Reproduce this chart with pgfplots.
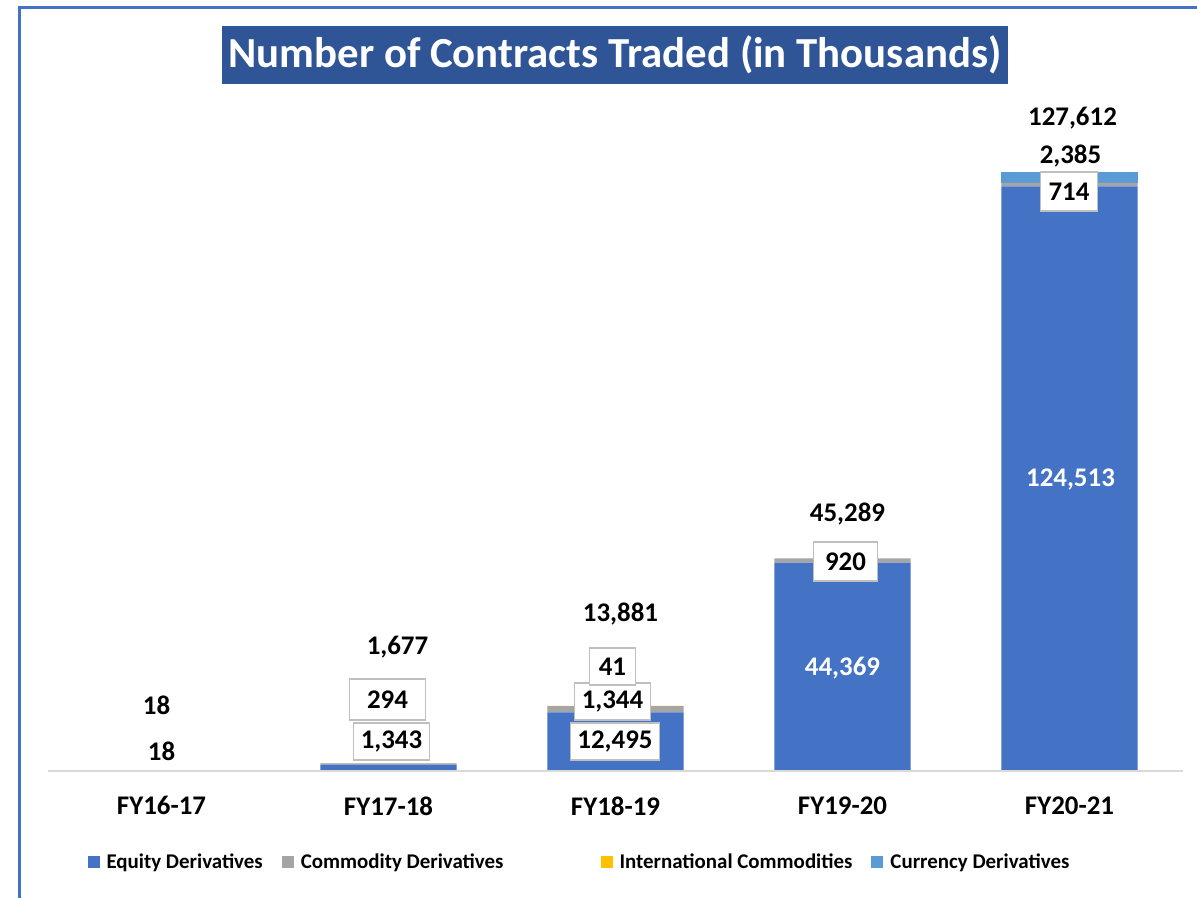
\documentclass[border=0pt]{standalone}
\usepackage{pgfplots}
\pgfplotsset{compat=1.18}
\usepackage{fontspec}
\setmainfont{Carlito}
\definecolor{eq}{HTML}{4472C4}
\definecolor{com}{HTML}{A5A5A5}
\definecolor{intl}{HTML}{FFC000}
\definecolor{cur}{HTML}{5B9BD5}
\definecolor{ttl}{HTML}{2F5597}
\definecolor{boxc}{HTML}{BFBFBF}
\definecolor{basel}{HTML}{D9D9D9}
\begin{document}
\begin{tikzpicture}[x=1bp,y=1bp,
  lbl/.style={font=\fontsize{27}{31}\selectfont\bfseries, inner sep=0pt},
  bx/.style={lbl, fill=white, draw=boxc, line width=1.5bp, minimum height=38bp}]
\useasboundingbox (0,0) rectangle (1197,898);
\draw[eq, line width=3bp] (19,0) -- (19,890) -- (1197,890);
\node[fill=ttl, text=white, font=\fontsize{43}{47}\selectfont\bfseries, minimum width=786bp, minimum height=58bp, inner sep=0pt] at (615,843) {Number of Contracts Traded (in Thousands)};
\begin{axis}[
  at={(48bp,127bp)}, anchor=south west,
  scale only axis, width=1135bp, height=671bp,
  xmin=-0.5, xmax=4.5, ymin=0, ymax=142900,
  ybar stacked, bar width=0.6,
  axis line style={draw=none}, ytick=\empty,
  xtick={0,1,2,3,4}, xticklabels={FY16-17,FY17-18,FY18-19,FY19-20,FY20-21},
  major tick length=0pt,
  xticklabel style={font=\fontsize{27}{31}\selectfont\bfseries, yshift=-22bp},
  clip=false,
  legend columns=4,
  legend style={draw=none, fill=none, at={(0.5,0)}, xshift=-36bp, yshift=-91bp, anchor=center,
    font=\fontsize{21}{24}\selectfont\bfseries,
    nodes={inner sep=2bp},
    /tikz/every odd column/.append style={column sep=5bp},
    /tikz/every even column/.append style={column sep=17bp}},
  legend image code/.code={\fill[#1] (0bp,-6bp) rectangle (12bp,6bp);},
]
\draw[basel, line width=1.5bp] (axis cs:-0.5,0) -- (axis cs:4.5,0);
\addplot[fill=eq, draw=none] coordinates {(0,18) (1,1343) (2,12495) (3,44369) (4,124513)};
\addplot[fill=com, draw=none] coordinates {(0,0) (1,294) (2,1344) (3,920) (4,714)};
\addplot[fill=intl, draw=none] coordinates {(0,0) (1,40) (2,41) (3,0) (4,0)};
\addplot[fill=cur, draw=none] coordinates {(0,0) (1,0) (2,0) (3,0) (4,2385)};
\legend{Equity Derivatives, Commodity Derivatives\hspace*{78bp}, International Commodities, Currency Derivatives}
\coordinate (c0) at (axis cs:0,0);
\coordinate (c1) at (axis cs:1,0);
\coordinate (c2) at (axis cs:2,0);
\coordinate (c3) at (axis cs:3,0);
\coordinate (c4) at (axis cs:4,0);
\end{axis}
% FY16-17
\node[lbl, yshift=20bp] at (c0) {18};
\node[lbl, xshift=-5bp, yshift=66bp] at (c0) {18};
% FY17-18
\node[bx, minimum width=76bp, minimum height=37bp, xshift=3bp, yshift=29.5bp] at (c1) {1,343};
\node[bx, minimum width=76bp, minimum height=41bp, xshift=-1bp, yshift=71.5bp] at (c1) {294};
\node[lbl, xshift=9bp, yshift=124bp] at (c1) {1,677};
% FY18-19
\node[bx, minimum width=89bp, minimum height=37bp, xshift=-0.5bp, yshift=29.5bp] at (c2) {12,495};
\node[bx, minimum width=76bp, minimum height=37bp, xshift=-3bp, yshift=69.5bp] at (c2) {1,344};
\node[bx, minimum width=46bp, minimum height=37bp, xshift=-3bp, yshift=104.5bp] at (c2) {41};
\node[lbl, xshift=5bp, yshift=157bp] at (c2) {13,881};
% FY19-20
\node[lbl, text=white, yshift=103bp] at (c3) {44,369};
\node[bx, minimum width=64bp, minimum height=39bp, xshift=3bp, yshift=209.5bp] at (c3) {920};
\node[lbl, xshift=5bp, yshift=257bp] at (c3) {45,289};
% FY20-21
\node[lbl, text=white, xshift=1bp, yshift=291bp] at (c4) {124,513};
\node[bx, minimum width=57bp, minimum height=39bp, xshift=-0.5bp, yshift=579.5bp] at (c4) {714};
\node[lbl, xshift=1bp, yshift=615bp] at (c4) {2,385};
\node[lbl, xshift=3bp, yshift=653bp] at (c4) {127,612};
\end{tikzpicture}
\end{document}
